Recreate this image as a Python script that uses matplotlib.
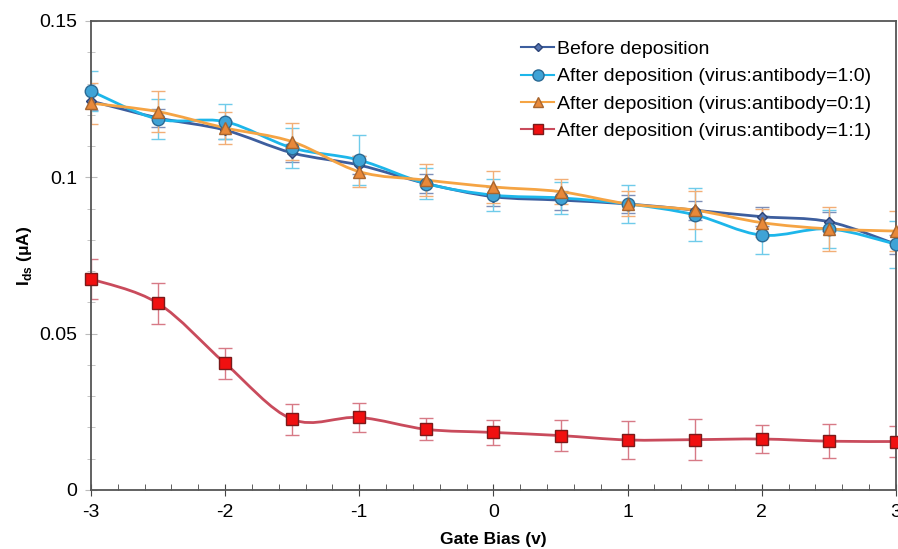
import numpy as np
import matplotlib
matplotlib.use("Agg")
import matplotlib.pyplot as plt
from matplotlib.path import Path
from matplotlib.patches import PathPatch
from matplotlib.lines import Line2D
from matplotlib.ticker import MultipleLocator

plt.rcParams['font.family'] = ['Liberation Sans', 'DejaVu Sans']
plt.rcParams['mathtext.fontset'] = 'custom'
plt.rcParams['mathtext.bf'] = 'Liberation Sans:bold'
plt.rcParams['mathtext.rm'] = 'Liberation Sans:bold'

gate_bias = [-3, -2.5, -2, -1.5, -1, -0.5, 0, 0.5, 1, 1.5, 2, 2.5, 3]

before = [0.1244, 0.1190, 0.1151, 0.1078, 0.1039, 0.0980, 0.0938, 0.0927, 0.0915, 0.0895, 0.0874, 0.0858, 0.0786]
before_err = [0.003] * 13

virus_only = [0.1276, 0.1186, 0.1178, 0.1094, 0.1055, 0.0980, 0.0943, 0.0934, 0.0915, 0.0880, 0.0815, 0.0835, 0.0786]
virus_only_err = [0.0065, 0.0065, 0.0055, 0.0065, 0.008, 0.005, 0.005, 0.005, 0.006, 0.0085, 0.006, 0.006, 0.0075]

antibody_only = [0.1237, 0.1210, 0.1158, 0.1114, 0.1018, 0.0991, 0.0969, 0.0954, 0.0915, 0.0895, 0.0855, 0.0835, 0.0828]
antibody_only_err = [0.0065, 0.0065, 0.005, 0.006, 0.005, 0.005, 0.005, 0.004, 0.004, 0.006, 0.0045, 0.007, 0.0065]

mixed = [0.0675, 0.0597, 0.0405, 0.0226, 0.0232, 0.0194, 0.0184, 0.0174, 0.0160, 0.0161, 0.0163, 0.0156, 0.0155]
mixed_err = [0.0065, 0.0065, 0.005, 0.005, 0.0045, 0.0035, 0.004, 0.005, 0.006, 0.0065, 0.0046, 0.0055, 0.005]

x_ticks = [-3, -2, -1, 0, 1, 2, 3]
y_ticks = [0, 0.05, 0.1, 0.15]
y_tick_labels = ["0", "0.05", "0.1", "0.15"]

labels = ["Before deposition",
          "After deposition (virus:antibody=1:0)",
          "After deposition (virus:antibody=0:1)",
          "After deposition (virus:antibody=1:1)"]


def smooth_path(xs, ys):
    # excel-like smoothed line: cubic bezier segments through the points
    p = np.column_stack([xs, ys])
    verts = [p[0]]
    codes = [Path.MOVETO]
    n = len(p)
    for i in range(n - 1):
        p0 = p[i - 1] if i > 0 else p[i]
        p3 = p[i + 2] if i + 2 < n else p[i + 1]
        c1 = p[i] + (p[i + 1] - p0) / 6.0
        c2 = p[i + 1] - (p3 - p[i]) / 6.0
        verts += [c1, c2, p[i + 1]]
        codes += [Path.CURVE4] * 3
    return Path(verts, codes)


series = [
    (before, before_err, "#3D5E9E", "D", "#5574B0", "#2C4478", "#7E8FB8", 5),
    (virus_only, virus_only_err, "#1DB6EA", "o", "#3FA3D6", "#2B6A94", "#6FCBEA", 9),
    (antibody_only, antibody_only_err, "#F5A444", "^", "#E8893A", "#A8652E", "#F2AE76", 8),
    (mixed, mixed_err, "#C94B5C", "s", "#F01010", "#7A1A1A", "#D77A86", 8),
]

fig = plt.figure(figsize=(8.98, 5.49), dpi=100)
ax = fig.add_axes([0.1013, 0.1075, 0.8964, 0.8543])

handles = []
for ys, err, lc, mk, mfc, mec, ec, ms in series:
    ax.add_patch(PathPatch(smooth_path(gate_bias, ys), facecolor="none",
                           edgecolor=lc, lw=2, zorder=2))
    ax.errorbar(gate_bias, ys, yerr=err, fmt="none", ecolor=ec,
                elinewidth=1, capsize=5, capthick=1, zorder=1)
    ax.plot(gate_bias, ys, ls="none", marker=mk, ms=ms, mfc=mfc, mec=mec,
            mew=1, zorder=3, clip_on=False)
    handles.append(Line2D([], [], color=lc, lw=1.5, marker=mk,
                          ms=ms - 1, mfc=mfc, mec=mec))

ax.set_xlim(-3, 3)
ax.set_ylim(0, 0.15)
ax.set_xticks(x_ticks)
ax.set_xticklabels([str(v) for v in x_ticks])
ax.xaxis.set_minor_locator(MultipleLocator(0.2))
ax.set_yticks(y_ticks)
ax.set_yticklabels(y_tick_labels)
ax.yaxis.set_minor_locator(MultipleLocator(0.01))

ax.tick_params(axis="x", which="major", direction="inout", length=8,
               color="#444444", labelsize=14, pad=6)
ax.tick_params(axis="x", which="minor", direction="in", length=4,
               color="#444444")
ax.tick_params(axis="y", which="both", direction="inout", length=8,
               color="#BBBBBB", labelsize=14, pad=6)
ax.tick_params(axis="y", which="minor", length=6)

for s in ax.spines.values():
    s.set_color("#555555")
    s.set_linewidth(1.3)

ax.set_xlabel("Gate Bias (v)", fontsize=12.5, fontweight="bold", labelpad=8)
ax.set_ylabel(r"I$_{\mathrm{ds}}$ (μA)", fontsize=12.5, fontweight="bold", labelpad=4)

ax.legend(handles, labels, loc="upper left", bbox_to_anchor=(0.525, 0.975),
          frameon=False, fontsize=14, handlelength=1.7, handletextpad=0.15,
          labelspacing=0.5, borderaxespad=0)

fig.savefig("out.png", dpi=100)
